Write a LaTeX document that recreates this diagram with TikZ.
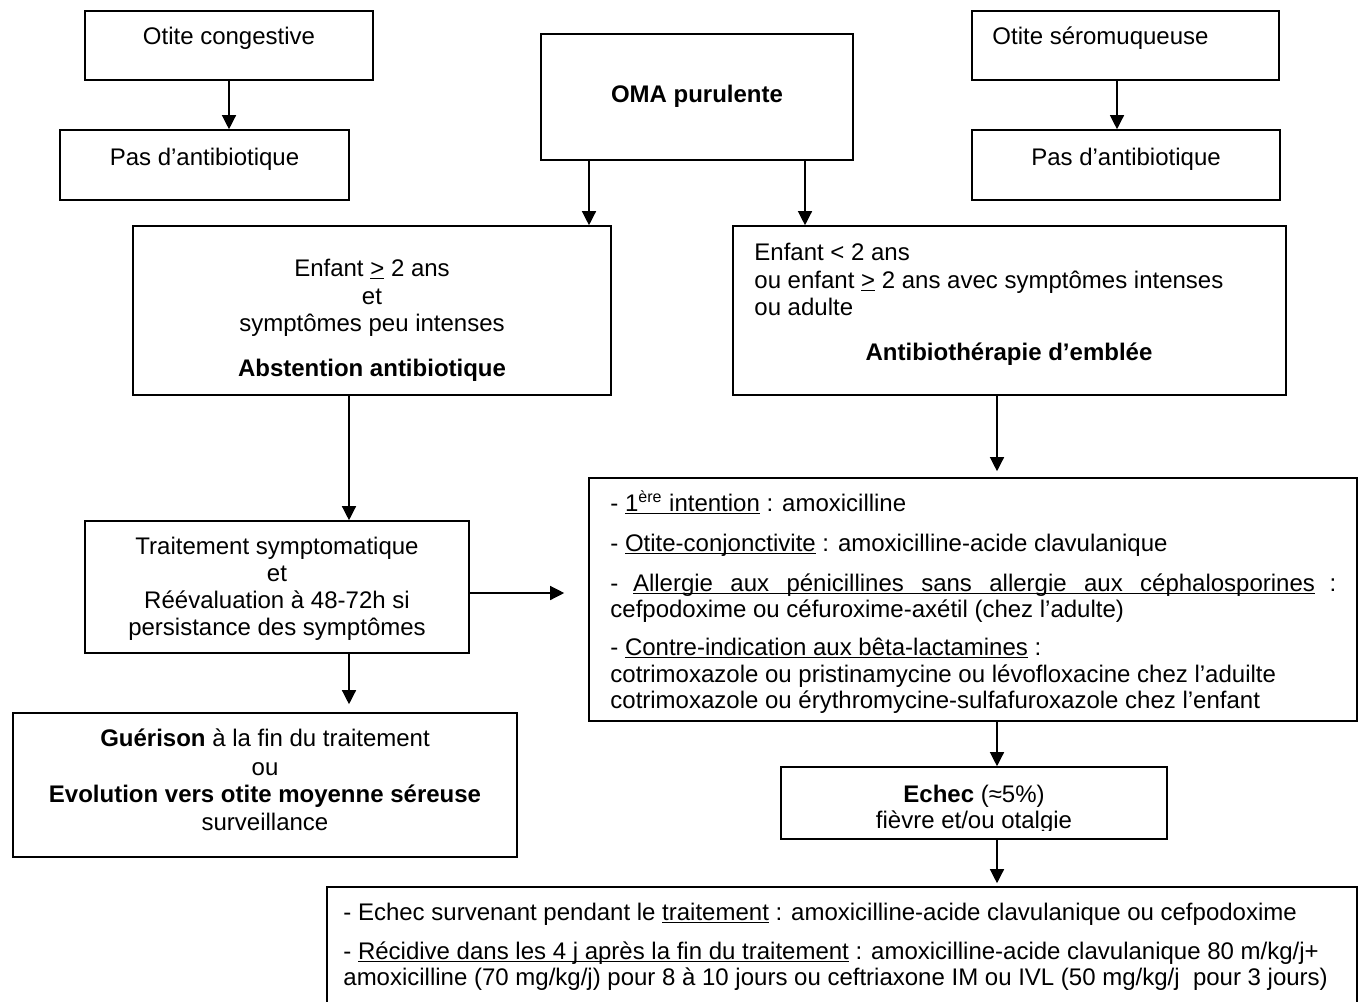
\documentclass[tikz,border=0pt]{standalone}
\usepackage{fontspec}
\setmainfont{Liberation Sans}
\usetikzlibrary{arrows.meta,calc}
\newcommand\uln[1]{\underline{\smash{#1}}}
\begin{document}
\begin{tikzpicture}[x=0.5pt,y=-0.5pt,
  font=\fontsize{12}{13.8}\selectfont,
  bx/.style={draw, line width=0.8pt, inner sep=0pt},
  tc/.style={inner sep=0pt, anchor=base},
  tl/.style={inner sep=0pt, anchor=base west},
  arr/.style={line width=0.65pt, -{Triangle[width=7pt,length=7pt]}}]
\useasboundingbox (0,0) rectangle (1364,1001);
\clip (0,0) rectangle (1364,1001);
% boxes
\node[bx, minimum width=144pt, minimum height=34.5pt] (cong) at (229,45.5) {};
\node[bx, minimum width=144.5pt, minimum height=35pt] (pasL) at (204.5,165) {};
\node[bx, minimum width=156pt, minimum height=63pt] (oma) at (697,97) {};
\node[bx, minimum width=153.5pt, minimum height=34.5pt] (sero) at (1125.5,45.5) {};
\node[bx, minimum width=154pt, minimum height=35pt] (pasR) at (1126,165) {};
\node[bx, minimum width=239pt, minimum height=84.5pt] (e2) at (372,310.5) {};
\node[bx, minimum width=276.5pt, minimum height=84.5pt] (e1) at (1009.5,310.5) {};
\node[bx, minimum width=192pt, minimum height=66pt] (trt) at (277,587) {};
\node[bx, minimum width=384pt, minimum height=121.5pt] (big) at (973,599.5) {};
\node[bx, minimum width=252pt, minimum height=72pt] (gue) at (265,785) {};
\node[bx, minimum width=193pt, minimum height=36pt] (ech) at (974,803) {};
\node[bx, minimum width=515pt, minimum height=62.5pt] (bot) at (842,949.5) {};
% texts
\node[tc] (tcong) at (229,44) {Otite congestive};
\node[tc] (tpasL) at (204.5,165.5) {Pas d’antibiotique};
\node[tc] (toma) at (697,102) {\bfseries OMA purulente};
\node[tl] (tsero) at (992,44) {Otite séromuqueuse};
\node[tc] (tpasR) at (1126,165.5) {Pas d’antibiotique};
\node[tc] (te2a) at (372,276) {Enfant \underline{>} 2 ans};
\node[tc] (te2b) at (372,304) {et};
\node[tc] (te2c) at (372,331) {symptômes peu intenses};
\node[tc] (te2d) at (372,376) {\bfseries Abstention antibiotique};
\node[tl] (te1a) at (754,260) {Enfant < 2 ans};
\node[tl] (te1b) at (754,288) {ou enfant \underline{>} 2 ans avec symptômes intenses};
\node[tl] (te1c) at (754,315) {ou adulte};
\node[tc] (te1d) at (1009,360) {\bfseries Antibiothérapie d’emblée};
\node[tc] (ttra) at (277,554) {Traitement symptomatique};
\node[tc] (ttrb) at (277,581) {et};
\node[tc] (ttrc) at (277,608) {Réévaluation à 48-72h si};
\node[tc] (ttrd) at (277,635) {persistance des symptômes};
\node[tl] (tbga) at (610,511) {- \uln{1\textsuperscript{ère} intention} : amoxicilline};
\node[tl] (tbgb) at (610,551) {- \uln{Otite-conjonctivite} : amoxicilline-acide clavulanique};
\node[tl] (tbgc) at (610,591) {\makebox[363pt][s]{-\ \uln{\makebox[341pt][s]{Allergie aux pénicillines sans allergie aux céphalosporines}}\ :}};
\node[tl] (tbgd) at (610,617) {cefpodoxime ou céfuroxime-axétil (chez l’adulte)};
\node[tl] (tbge) at (610,655) {- \uln{Contre-indication aux bêta-lactamines} :};
\node[tl] (tbgf) at (610,682) {cotrimoxazole ou pristinamycine ou lévofloxacine chez l’aduilte};
\node[tl] (tbgg) at (610,708) {cotrimoxazole ou érythromycine-sulfafuroxazole chez l’enfant};
\node[tc] (tgua) at (265,746) {\textbf{Guérison} à la fin du traitement};
\node[tc] (tgub) at (265,775) {ou};
\node[tc] (tguc) at (265,802) {\bfseries Evolution vers otite moyenne séreuse};
\node[tc] (tgud) at (265,830) {surveillance};
\node[tc] (techa) at (974,802) {\textbf{Echec} (≈5\%)};
\begin{scope}
\clip (800,805) rectangle (1150,830);
\node[tc] (techb) at (974,828) {fièvre et/ou otalgie};
\end{scope}
\node[tl] (tbota) at (343,920) {- Echec survenant pendant le \uln{traitement} : amoxicilline-acide clavulanique ou cefpodoxime};
\node[tl] (tbotb) at (343,959) {- \uln{Récidive dans les 4 j après la fin du traitement} : amoxicilline-acide clavulanique 80 m/kg/j+};
\node[tl] (tbotc) at (343,985) {amoxicilline (70 mg/kg/j) pour 8 à 10 jours ou ceftriaxone IM ou IVL (50 mg/kg/j\ \ pour 3 jours)};
% arrows
\draw[arr] (cong.south) -- (cong.south |- pasL.north);
\draw[arr] ($(sero.south)+(-8.5,0)$) -- ($(sero.south |- pasR.north)+(-8.5,0)$);
\draw[arr] ($(oma.south)+(-108,0)$) -- ($(oma.south |- e2.north)+(-108,0)$);
\draw[arr] ($(oma.south)+(108,0)$) -- ($(oma.south |- e1.north)+(108,0)$);
\draw[arr] ($(e2.south)+(-23,0)$) -- ($(e2.south |- trt.north)+(-23,0)$);
\draw[arr] ($(e1.south)+(-12.5,0)$) -- ($(e1.south |- big.north)+(-12.5,-6)$);
\draw[arr] ($(trt.east)+(0,6)$) -- ($(trt.east -| big.west)+(-24,6)$);
\draw[arr] ($(trt.south)+(72,0)$) -- ($(trt.south |- gue.north)+(72,-8)$);
\draw[arr] ($(big.south)+(24,0)$) -- ($(big.south |- ech.north)+(24,0)$);
\draw[arr] ($(ech.south)+(23,0)$) -- ($(ech.south |- bot.north)+(23,-3)$);
\end{tikzpicture}
\end{document}
